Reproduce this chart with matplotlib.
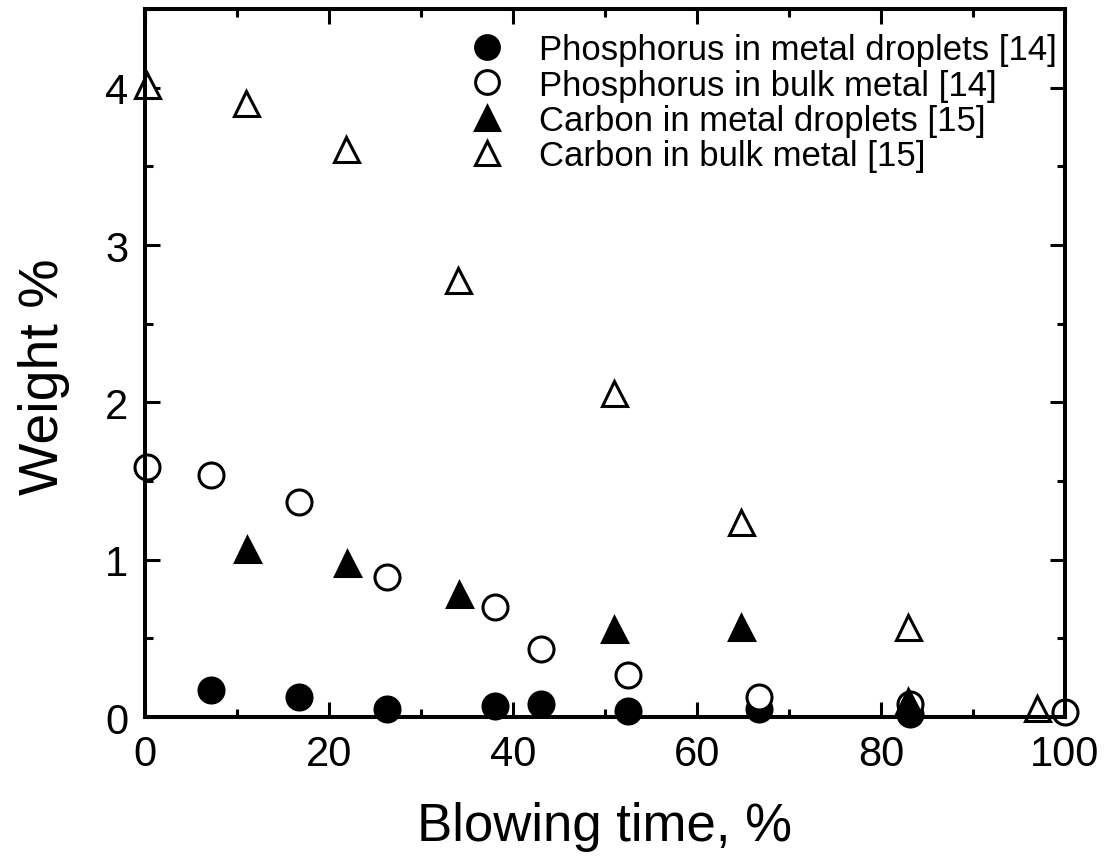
import matplotlib
matplotlib.use('Agg')
from matplotlib import pyplot as plt
from matplotlib.ticker import MultipleLocator

# Phosphorus, metal droplets [14]
p_drop_x = [7.2, 16.7, 26.3, 38.0, 43.0, 52.5, 66.7, 83.2]
p_drop_y = [0.17, 0.13, 0.05, 0.07, 0.08, 0.04, 0.05, 0.02]
# Phosphorus, bulk metal [14]
p_bulk_x = [0.2, 7.2, 16.7, 26.3, 38.0, 43.0, 52.5, 66.7, 83.2, 100.0]
p_bulk_y = [1.59, 1.54, 1.37, 0.89, 0.70, 0.43, 0.27, 0.13, 0.08, 0.03]
# Carbon, metal droplets [15]
c_drop_x = [11.1, 22.0, 34.1, 51.0, 64.8, 82.9]
c_drop_y = [1.07, 0.98, 0.78, 0.56, 0.57, 0.10]
# Carbon, bulk metal [15]
c_bulk_x = [0.2, 11.0, 21.8, 34.0, 51.0, 64.8, 82.9, 97.0]
c_bulk_y = [4.02, 3.90, 3.61, 2.78, 2.06, 1.24, 0.57, 0.06]

labels = ['Phosphorus in metal droplets [14]', 'Phosphorus in bulk metal [14]',
          'Carbon in metal droplets [15]', 'Carbon in bulk metal [15]']

plt.rcParams['font.family'] = ['Liberation Sans', 'DejaVu Sans']

fig = plt.figure(figsize=(11.06, 8.62), dpi=100)
ax = fig.add_axes([0.1311, 0.167, 0.8318, 0.8213])

ms = 18
mew = 2.2
ax.plot(p_drop_x, p_drop_y, 'o', ms=ms, mfc='k', mec='k', mew=mew, label=labels[0], clip_on=False)
ax.plot(p_bulk_x, p_bulk_y, 'o', ms=ms, mfc='white', mec='k', mew=mew, label=labels[1], clip_on=False)
ax.plot(c_drop_x, c_drop_y, '^', ms=ms, mfc='k', mec='k', mew=mew, label=labels[2], clip_on=False)
ax.plot(c_bulk_x, c_bulk_y, '^', ms=ms, mfc='white', mec='k', mew=mew, label=labels[3], clip_on=False)

ax.set_xlim(0, 100)
ax.set_ylim(0, 4.5)
ax.xaxis.set_major_locator(MultipleLocator(20))
ax.xaxis.set_minor_locator(MultipleLocator(10))
ax.yaxis.set_major_locator(MultipleLocator(1))
ax.yaxis.set_minor_locator(MultipleLocator(0.5))

for s in ax.spines.values():
    s.set_linewidth(2.9)
ax.tick_params(which='both', direction='in', top=True, right=True, width=2.2)
ax.tick_params(which='major', length=11, labelsize=30, pad=12)
ax.tick_params(which='minor', length=5.5)

ax.set_xlabel('Blowing time, %', fontsize=38, labelpad=20)
ax.set_ylabel('Weight %', fontsize=40)
ax.yaxis.set_label_coords(-0.081, 0.482)

ax.legend(loc='upper left', bbox_to_anchor=(0.353, 0.966), frameon=False,
          fontsize=25, handlelength=1.0, handletextpad=1.0, labelspacing=0.07,
          borderpad=0, borderaxespad=0, markerscale=0.95)

fig.savefig('out.png', dpi=100)
